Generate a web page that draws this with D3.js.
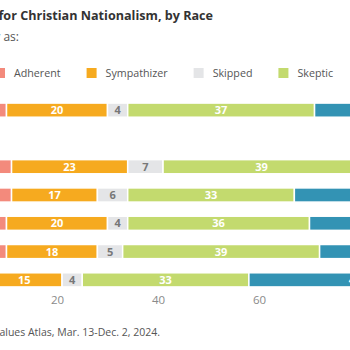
<!DOCTYPE html>
<html>
<head>
<meta charset="utf-8">
<script src="https://cdn.jsdelivr.net/npm/d3@7/dist/d3.min.js"></script>
<style>
  html, body { margin: 0; padding: 0; background: #fff; overflow: hidden; }
  svg { display: block; font-family: "Open Sans", sans-serif; }
</style>
</head>
<body>
<svg id="chart" width="350" height="350"></svg>
<script>
// ---- data ----
const title = "Support for Christian Nationalism, by Race";
const subtitle = "Percent who qualify as:";
const source = "Source: PRRI American Values Atlas, Mar. 13-Dec. 2, 2024.";
const categories = ["All Americans", "Race/Ethnicity", "Hispanic", "Black", "White", "Multiracial", "AAPI"];
const seriesNames = ["Adherent", "Sympathizer", "Skipped", "Skeptic", "Rejecter"];
const adherent    = [10, null, 11, 11, 10, 10, 6];
const sympathizer = [20, null, 23, 17, 20, 18, 15];
const skipped     = [4,  null, 7,  6,  4,  5,  4];
const skeptic     = [37, null, 39, 33, 36, 39, 33];
const rejecter    = [29, null, 20, 33, 30, 28, 42];
const tickValues  = [0, 20, 40, 60, 80, 100];
const colors = ["#F38A7C", "#F6AA1F", "#E4E5E7", "#C3DA6E", "#3393B4"];

const series = [adherent, sympathizer, skipped, skeptic, rejecter];

// ---- layout ----
const svg = d3.select("#chart");
const x = d3.scaleLinear().domain([0, 100]).range([-44, 461]);
const y = d3.scaleBand().domain(categories).range([96, 294]).paddingInner(0.5).paddingOuter(0.25);

// title
svg.append("text").attr("x", 213).attr("y", 20).attr("text-anchor", "end")
  .attr("font-size", 12.6).attr("font-weight", 700).attr("fill", "#333").text(title);
svg.append("text").attr("x", 19).attr("y", 41).attr("text-anchor", "end")
  .attr("font-size", 12).attr("fill", "#555").text(subtitle);

// legend (flow layout)
const lg = svg.append("g").attr("class", "legend");
let lx = -5;
seriesNames.forEach((name, i) => {
  lg.append("rect").attr("x", lx).attr("y", 68).attr("width", 10).attr("height", 10).attr("fill", colors[i]);
  const t = lg.append("text").attr("x", lx + 19).attr("y", 77).attr("font-size", 10.7)
    .attr("fill", "#555").text(name);
  lx = lx + 19 + t.node().getComputedTextLength() + 26;
});

// bars
const rows = categories.map((c, r) => {
  let acc = 0;
  const segs = [];
  series.forEach((s, i) => {
    const v = s[r];
    if (v == null) return;
    segs.push({ cat: c, i, v, x0: acc, x1: acc + v });
    acc += v;
  });
  return segs;
});
const allSegs = rows.flat();

svg.append("g").selectAll("rect").data(allSegs).join("rect")
  .attr("x", d => x(d.x0))
  .attr("width", d => x(d.x1) - x(d.x0))
  .attr("y", d => y(d.cat))
  .attr("height", y.bandwidth())
  .attr("fill", d => colors[d.i])
  .attr("stroke", "#fff").attr("stroke-width", 1.5);

svg.append("g").selectAll("text").data(allSegs).join("text")
  .attr("x", d => x((d.x0 + d.x1) / 2))
  .attr("y", d => y(d.cat) + y.bandwidth() / 2)
  .attr("dy", "0.36em")
  .attr("text-anchor", "middle")
  .attr("font-size", 11).attr("font-weight", 700)
  .attr("fill", d => d.i === 2 ? "#777" : "#fff")
  .text(d => d.v);

// category labels (left of plot)
svg.append("g").selectAll("text").data(categories).join("text")
  .attr("x", x(0) - 8).attr("y", d => y(d) + y.bandwidth() / 2).attr("dy", "0.36em")
  .attr("text-anchor", "end").attr("font-size", 11).attr("fill", "#555").text(d => d);

// axis
const axis = svg.append("g").attr("transform", "translate(0,288)")
  .call(d3.axisBottom(x).tickValues(tickValues).tickSize(0).tickPadding(8));
axis.select(".domain").remove();
axis.selectAll("text").attr("font-size", 11.5).attr("fill", "#8a8a8a").attr("font-family", "Open Sans, sans-serif");

// source
svg.append("text").attr("x", 160).attr("y", 336).attr("text-anchor", "end")
  .attr("font-size", 10.5).attr("fill", "#555").text(source);
</script>
</body>
</html>
